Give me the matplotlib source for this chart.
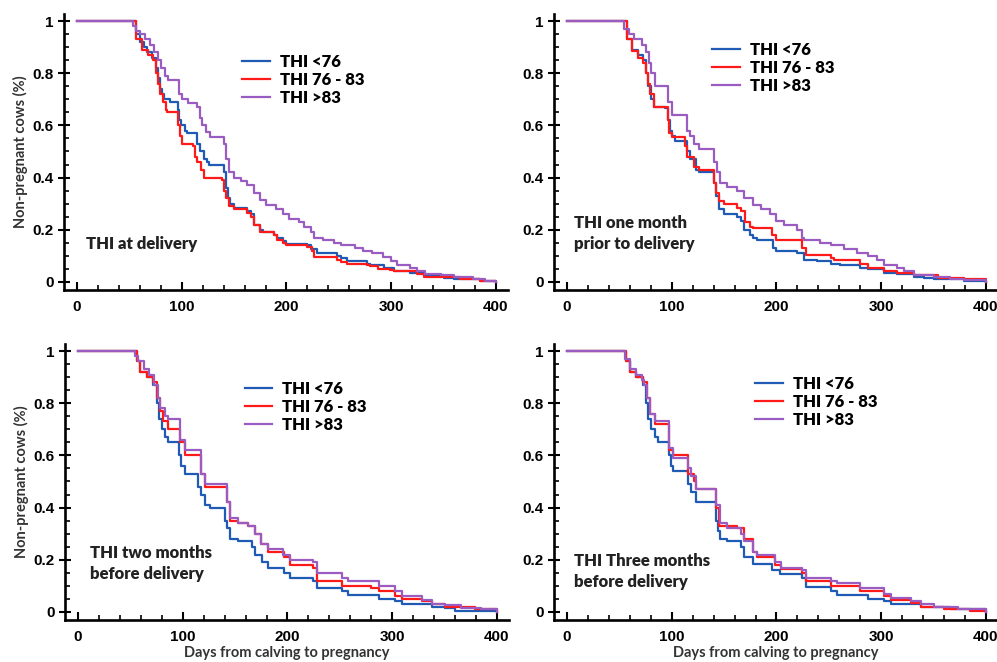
import matplotlib
matplotlib.use('Agg')
import matplotlib.pyplot as plt
from matplotlib.ticker import MultipleLocator
plt.rc('font', family='Liberation Sans', weight='bold', size=10.5)

series_labels = ['THI <76', 'THI 76 - 83', 'THI >83']
series_colors = ['#1f5bb5', '#ff1a1a', '#9a5cc0']
panel_notes = ['THI at delivery', 'THI one month\nprior to delivery',
               'THI two months\nbefore delivery', 'THI Three months\nbefore delivery']

# (day, proportion non-pregnant) step points
delivery_low = [(0, 1.0), (56, 0.95), (60, 0.92), (64, 0.90), (67, 0.88), (72, 0.86), (75, 0.82), (77, 0.78),
                (79, 0.74), (81, 0.72), (83, 0.70), (89, 0.69), (96, 0.66), (97, 0.62), (99, 0.60), (103, 0.58),
                (105, 0.57), (115, 0.53), (117, 0.50), (121, 0.47), (124, 0.46), (126, 0.45), (140, 0.42),
                (142, 0.36), (144, 0.32), (146, 0.30), (150, 0.285), (162, 0.27), (166, 0.26), (169, 0.22),
                (175, 0.20), (178, 0.19), (188, 0.18), (191, 0.17), (197, 0.155), (200, 0.145), (220, 0.14),
                (223, 0.125), (229, 0.11), (248, 0.10), (252, 0.09), (258, 0.08), (277, 0.07), (280, 0.065),
                (293, 0.055), (303, 0.04), (318, 0.035), (331, 0.025), (350, 0.015), (360, 0.01), (385, 0.005),
                (400, 0.0)]
delivery_mid = [(0, 1.0), (56, 0.93), (62, 0.89), (68, 0.87), (73, 0.85), (75, 0.80), (77, 0.76), (79, 0.72),
                (82, 0.69), (85, 0.66), (86, 0.65), (96, 0.60), (98, 0.56), (100, 0.53), (111, 0.52), (113, 0.48),
                (115, 0.46), (118, 0.43), (121, 0.40), (138, 0.39), (140, 0.35), (142, 0.32), (145, 0.29),
                (150, 0.28), (162, 0.265), (166, 0.25), (169, 0.22), (175, 0.19), (188, 0.18), (191, 0.16),
                (197, 0.15), (200, 0.14), (220, 0.135), (224, 0.12), (226, 0.095), (248, 0.085), (252, 0.075),
                (258, 0.07), (277, 0.065), (280, 0.06), (287, 0.05), (299, 0.045), (303, 0.04), (325, 0.03),
                (331, 0.02), (366, 0.01), (385, 0.005), (400, 0.0)]
delivery_high = [(0, 1.0), (53, 0.98), (56, 0.96), (60, 0.95), (65, 0.93), (70, 0.91), (74, 0.88), (77, 0.85),
                 (80, 0.82), (84, 0.79), (87, 0.775), (97, 0.72), (100, 0.70), (106, 0.685), (115, 0.67),
                 (117, 0.63), (119, 0.60), (123, 0.575), (127, 0.555), (140, 0.53), (142, 0.47), (145, 0.42),
                 (150, 0.40), (157, 0.385), (162, 0.37), (169, 0.34), (175, 0.315), (180, 0.295), (190, 0.28),
                 (197, 0.26), (202, 0.24), (212, 0.23), (217, 0.21), (223, 0.19), (226, 0.17), (235, 0.16),
                 (245, 0.15), (252, 0.14), (265, 0.13), (273, 0.12), (282, 0.11), (292, 0.095), (300, 0.08),
                 (306, 0.065), (318, 0.055), (325, 0.04), (332, 0.03), (348, 0.025), (360, 0.02), (378, 0.01),
                 (390, 0.005), (400, 0.0)]

one_month_low = [(0, 1.0), (57, 0.93), (62, 0.89), (68, 0.87), (73, 0.85), (75, 0.80), (77, 0.75), (80, 0.70),
                 (83, 0.67), (94, 0.665), (96, 0.62), (98, 0.58), (100, 0.56), (103, 0.54), (115, 0.50),
                 (117, 0.47), (123, 0.43), (126, 0.42), (140, 0.38), (142, 0.33), (145, 0.28), (150, 0.26),
                 (162, 0.25), (166, 0.235), (169, 0.20), (175, 0.18), (178, 0.17), (181, 0.16), (197, 0.13),
                 (200, 0.12), (220, 0.11), (226, 0.085), (239, 0.08), (252, 0.07), (261, 0.065), (280, 0.055),
                 (287, 0.05), (303, 0.035), (315, 0.03), (331, 0.02), (341, 0.015), (350, 0.01), (379, 0.005),
                 (400, 0.0)]
one_month_mid = [(0, 1.0), (57, 0.93), (62, 0.885), (68, 0.86), (73, 0.84), (75, 0.80), (77, 0.76), (79, 0.72),
                 (83, 0.67), (96, 0.62), (97, 0.57), (100, 0.555), (113, 0.52), (115, 0.48), (121, 0.44),
                 (126, 0.43), (140, 0.38), (142, 0.34), (145, 0.31), (150, 0.30), (162, 0.285), (166, 0.27),
                 (170, 0.23), (175, 0.21), (178, 0.205), (196, 0.18), (200, 0.16), (224, 0.13), (228, 0.105),
                 (252, 0.09), (255, 0.085), (280, 0.07), (287, 0.055), (303, 0.04), (315, 0.035), (331, 0.025),
                 (354, 0.015), (379, 0.01), (400, 0.0)]
one_month_high = [(0, 1.0), (54, 0.97), (59, 0.95), (64, 0.93), (72, 0.91), (75, 0.88), (78, 0.84), (80, 0.80),
                  (84, 0.75), (96, 0.69), (100, 0.64), (115, 0.58), (117, 0.56), (121, 0.53), (126, 0.51),
                  (140, 0.46), (143, 0.42), (146, 0.38), (153, 0.365), (162, 0.35), (169, 0.32), (178, 0.295),
                  (185, 0.28), (194, 0.26), (200, 0.235), (207, 0.22), (220, 0.20), (224, 0.17), (226, 0.16),
                  (242, 0.15), (252, 0.14), (264, 0.125), (277, 0.11), (287, 0.10), (296, 0.085), (303, 0.065),
                  (315, 0.055), (322, 0.04), (331, 0.025), (350, 0.02), (366, 0.013), (379, 0.008), (400, 0.0)]

two_month_low = [(0, 1.0), (56, 0.96), (59, 0.92), (66, 0.90), (72, 0.87), (75, 0.80), (77, 0.74), (80, 0.70),
                 (83, 0.67), (86, 0.65), (96, 0.60), (98, 0.56), (102, 0.53), (115, 0.48), (117, 0.45),
                 (121, 0.41), (126, 0.40), (140, 0.35), (142, 0.32), (145, 0.28), (153, 0.27), (166, 0.25),
                 (169, 0.22), (176, 0.19), (181, 0.17), (197, 0.15), (202, 0.13), (224, 0.12), (228, 0.09),
                 (252, 0.08), (258, 0.065), (287, 0.05), (303, 0.04), (309, 0.03), (338, 0.02), (350, 0.015),
                 (360, 0.005), (400, 0.0)]
two_month_mid = [(0, 1.0), (56, 0.96), (59, 0.92), (66, 0.90), (72, 0.88), (75, 0.82), (78, 0.77), (81, 0.73),
                 (86, 0.70), (97, 0.65), (102, 0.60), (117, 0.53), (121, 0.48), (142, 0.42), (145, 0.35),
                 (153, 0.34), (162, 0.33), (169, 0.30), (175, 0.26), (181, 0.23), (197, 0.21), (202, 0.18),
                 (224, 0.17), (228, 0.12), (252, 0.10), (280, 0.09), (287, 0.08), (303, 0.06), (309, 0.05),
                 (328, 0.04), (338, 0.03), (350, 0.02), (379, 0.01), (400, 0.0)]
two_month_high = [(0, 1.0), (54, 0.98), (57, 0.96), (63, 0.93), (68, 0.91), (73, 0.87), (76, 0.82), (78, 0.78),
                  (83, 0.75), (86, 0.74), (97, 0.66), (102, 0.62), (117, 0.53), (121, 0.49), (142, 0.42),
                  (145, 0.36), (153, 0.34), (162, 0.33), (169, 0.30), (175, 0.26), (181, 0.24), (196, 0.22),
                  (202, 0.20), (224, 0.19), (228, 0.15), (252, 0.13), (258, 0.12), (287, 0.10), (303, 0.08),
                  (309, 0.06), (328, 0.045), (338, 0.03), (350, 0.025), (366, 0.015), (385, 0.01), (400, 0.0)]

three_month_low = [(0, 1.0), (56, 0.96), (60, 0.92), (66, 0.90), (73, 0.87), (75, 0.80), (77, 0.74), (80, 0.70),
                   (84, 0.67), (87, 0.65), (97, 0.60), (99, 0.56), (101, 0.54), (116, 0.49), (118, 0.46),
                   (123, 0.42), (142, 0.35), (144, 0.31), (146, 0.28), (153, 0.27), (166, 0.25), (169, 0.21),
                   (178, 0.185), (196, 0.16), (203, 0.145), (224, 0.13), (228, 0.095), (252, 0.08), (258, 0.065),
                   (287, 0.05), (303, 0.04), (309, 0.03), (338, 0.02), (366, 0.01), (400, 0.0)]
three_month_mid = [(0, 1.0), (56, 0.96), (60, 0.92), (66, 0.90), (73, 0.88), (76, 0.82), (79, 0.76), (84, 0.72),
                   (97, 0.62), (101, 0.60), (116, 0.53), (121, 0.50), (123, 0.47), (142, 0.40), (145, 0.33),
                   (162, 0.32), (169, 0.28), (178, 0.23), (181, 0.21), (199, 0.18), (204, 0.165), (224, 0.15),
                   (228, 0.12), (252, 0.10), (280, 0.08), (303, 0.06), (309, 0.045), (328, 0.035), (338, 0.02),
                   (360, 0.01), (385, 0.005), (400, 0.0)]
three_month_high = [(0, 1.0), (55, 0.97), (60, 0.93), (66, 0.91), (72, 0.89), (74, 0.87), (76, 0.82), (79, 0.76),
                    (84, 0.73), (97, 0.63), (101, 0.59), (116, 0.55), (118, 0.52), (123, 0.47), (142, 0.41),
                    (146, 0.34), (153, 0.32), (166, 0.30), (169, 0.27), (178, 0.23), (181, 0.22), (199, 0.19),
                    (204, 0.17), (224, 0.16), (228, 0.13), (252, 0.12), (258, 0.11), (280, 0.09), (303, 0.07),
                    (309, 0.055), (328, 0.04), (338, 0.03), (350, 0.02), (373, 0.01), (400, 0.0)]

panels = [
    [delivery_low, delivery_mid, delivery_high],
    [one_month_low, one_month_mid, one_month_high],
    [two_month_low, two_month_mid, two_month_high],
    [three_month_low, three_month_mid, three_month_high],
]

W, H = 997, 662
fig = plt.figure(figsize=(W / 100, H / 100), dpi=100)
# axes boxes in pixels: left, top, right, bottom
boxes = [(64, 14, 508, 290), (554, 14, 998, 290), (65, 344, 509, 620), (554, 344, 998, 620)]
legend_pos = [(0.401, 0.761), (0.356, 0.804), (0.405, 0.771), (0.453, 0.789)]
note_pos = [(8.6, 0.146), (6.7, 0.186), (11, 0.186), (6.7, 0.156)]

for k, (l, t, r, b) in enumerate(boxes):
    ax = fig.add_axes([l / W, 1 - b / H, (r - l) / W, (b - t) / H])
    for curve, lab, col in zip(panels[k], series_labels, series_colors):
        days = [p[0] for p in curve]
        surv = [p[1] for p in curve]
        ax.step(days, surv, where='post', color=col, lw=1.6, label=lab)
    ax.set_xlim(-12.4, 411.5)
    ax.set_ylim(-0.031, 1.027)
    ax.spines['top'].set_visible(False)
    ax.spines['right'].set_visible(False)
    ax.spines['left'].set_linewidth(1.9)
    ax.spines['bottom'].set_linewidth(1.9)
    ax.xaxis.set_major_locator(MultipleLocator(100))
    ax.xaxis.set_minor_locator(MultipleLocator(20))
    ax.yaxis.set_minor_locator(MultipleLocator(0.05))
    ax.set_yticks([0, 0.2, 0.4, 0.6, 0.8, 1.0])
    ax.set_yticklabels(['0', '0.2', '0.4', '0.6', '0.8', '1'])
    ax.tick_params(axis='both', labelsize=11)
    ax.tick_params(axis='x', which='major', direction='in', length=6, width=1.5, pad=7)
    ax.tick_params(axis='x', which='minor', direction='in', length=3.5, width=1.2)
    ax.tick_params(axis='y', which='major', direction='inout', length=9, width=1.5, pad=3)
    ax.tick_params(axis='y', which='minor', direction='in', length=3.5, width=1.2)
    ax.legend(loc='center left', bbox_to_anchor=legend_pos[k], frameon=False, borderpad=0,
              borderaxespad=0, handlelength=1.65, handletextpad=0.6, labelspacing=0.12,
              prop={'family': 'Lato', 'weight': 'heavy', 'size': 12})
    ax.text(note_pos[k][0], note_pos[k][1], panel_notes[k], ha='left', va='center',
            family='Lato', weight='heavy', fontsize=12, linespacing=1.4, color='#222222')
    if k % 2 == 0:
        ax.set_ylabel('Non-pregnant cows (%)', family='Lato', weight='bold', fontsize=10.5,
                      color='#333333', labelpad=3)
    if k >= 2:
        ax.set_xlabel('Days from calving to pregnancy', family='Lato', weight='bold', fontsize=10.5,
                      color='#333333', labelpad=2)

plt.savefig('out.png', dpi=100)
